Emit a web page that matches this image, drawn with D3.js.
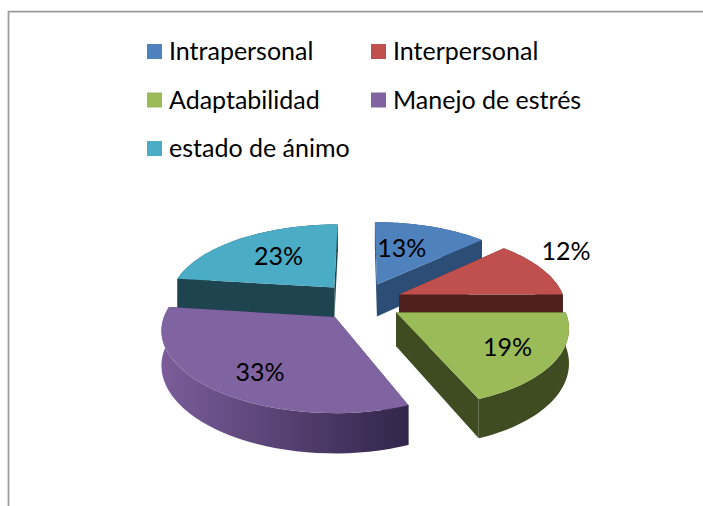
<!DOCTYPE html>
<html>
<head>
<meta charset="utf-8">
<script src="https://cdn.jsdelivr.net/npm/d3@7"></script>
<style>
  html, body { margin: 0; background: #fff; }
  svg { display: block; }
  text { font-family: Lato, sans-serif; fill: #000; }
</style>
</head>
<body>
<svg id="chart" width="703" height="506"></svg>
<script>
const CATEGORIES = ['Intrapersonal', 'Interpersonal', 'Adaptabilidad', 'Manejo de estrés', 'estado de ánimo']
const VALUES = [13, 12, 19, 33, 23]
const TOP_COLORS = ['#4f81bd', '#c0504d', '#9bbb59', '#8064a2', '#4bacc6']
const WALL_COLORS = ['#2c4d75', '#4f201d', '#3f4b20', 'url(#purple-wall)', '#1d444f']

// where the % label sits in each slice: [angle in degrees, fraction of radius]
const LABEL_SPOTS = [[17.1, 0.6], [59.9, 1.32], [123.7, 0.72], [213.2, 0.72], [321.7, 0.615]]
// teal, blue and red sit behind the purple and green ones
const DRAW_ORDER = [4, 0, 1, 3, 2]

const CENTER = { x: 361, y: 301.5 }
const RX = 166
const RY = 76.5
const PERSPECTIVE = 0.15
const FRONT_LEAN = 3.5
const EXPLODE = 0.25
const DEPTH = 33

const svg = d3.select('#chart')

const defs = svg.append('defs')
const grad = defs.append('linearGradient').attr('id', 'purple-wall')
grad.append('stop').attr('offset', '0%').attr('stop-color', '#7a5d9a')
grad.append('stop').attr('offset', '100%').attr('stop-color', '#32254a')

// chart frame, only top and left are in the picture
svg.append('path')
  .attr('d', 'M8.5,506V11.5H703')
  .attr('fill', 'none')
  .attr('stroke', '#9a9a9a')
  .attr('stroke-width', 1.75)

// disc to screen. the slice is pushed out along its mid angle first,
// so pulled out slices nearer the viewer get bigger too
const project = (mid, angle, r, drop = 0) => {
  const across = EXPLODE * Math.sin(mid) + r * Math.sin(angle)
  const toViewer = -EXPLODE * Math.cos(mid) - r * Math.cos(angle)
  const s = 1 / (1 - PERSPECTIVE * toViewer)
  // the front of the original leans a little to the right
  const lean = FRONT_LEAN * Math.max(0, toViewer) ** 2
  return {
    x: CENTER.x + RX * across * s + lean,
    y: CENTER.y + (RY * toViewer + drop) * s,
  }
}

const pie = d3.pie().sort(null)
const slices = pie(VALUES)
const line = d3.line().x(d => d.x).y(d => d.y)
const midAngle = s => (s.startAngle + s.endAngle) / 2

const rimPoints = (slice, drop) =>
  d3.range(0, 41).map(i => {
    const a = slice.startAngle + (slice.endAngle - slice.startAngle) * i / 40
    return project(midAngle(slice), a, 1, drop)
  })

DRAW_ORDER.forEach(i => {
  const slice = slices[i]
  const mid = midAngle(slice)
  const g = svg.append('g')

  const apex = project(mid, 0, 0)
  const apexLow = project(mid, 0, 0, DEPTH)
  const top = rimPoints(slice, 0)
  const low = rimPoints(slice, DEPTH)

  // the two cut faces
  ;[[top[0], low[0]], [top[40], low[40]]].forEach(([a, b]) => {
    g.append('path')
      .attr('d', line([apex, a, b, apexLow]) + 'Z')
      .attr('fill', WALL_COLORS[i] === 'url(#purple-wall)' ? '#32254a' : WALL_COLORS[i])
  })
  // outer rim
  g.append('path')
    .attr('d', line([...top, ...low.reverse()]) + 'Z')
    .attr('fill', WALL_COLORS[i])
  // top face
  g.append('path')
    .attr('d', line([apex, ...top]) + 'Z')
    .attr('fill', TOP_COLORS[i])
})

// % labels on top of everything
slices.forEach((slice, i) => {
  const [deg, r] = LABEL_SPOTS[i]
  const p = project(midAngle(slice), deg * Math.PI / 180, r)
  svg.append('text')
    .attr('x', p.x)
    .attr('y', p.y)
    .attr('text-anchor', 'middle')
    .attr('dominant-baseline', 'central')
    .attr('font-size', 25)
    .text(`${VALUES[i]}%`)
})

// legend, two columns
const legendX = d3.scalePoint().domain([0, 1]).range([147, 371])
const legendY = d3.scalePoint().domain([0, 1, 2]).range([44, 141])
const legend = svg.append('g').selectAll('g')
  .data(CATEGORIES)
  .join('g')
  .attr('transform', (_, i) => `translate(${legendX(i % 2)},${legendY(Math.floor(i / 2))})`)
legend.append('rect')
  .attr('width', 15)
  .attr('height', 15)
  .attr('fill', (_, i) => TOP_COLORS[i])
legend.append('text')
  .attr('x', 22)
  .attr('y', 16)
  .attr('font-size', 25)
  .text(d => d)
</script>
</body>
</html>
